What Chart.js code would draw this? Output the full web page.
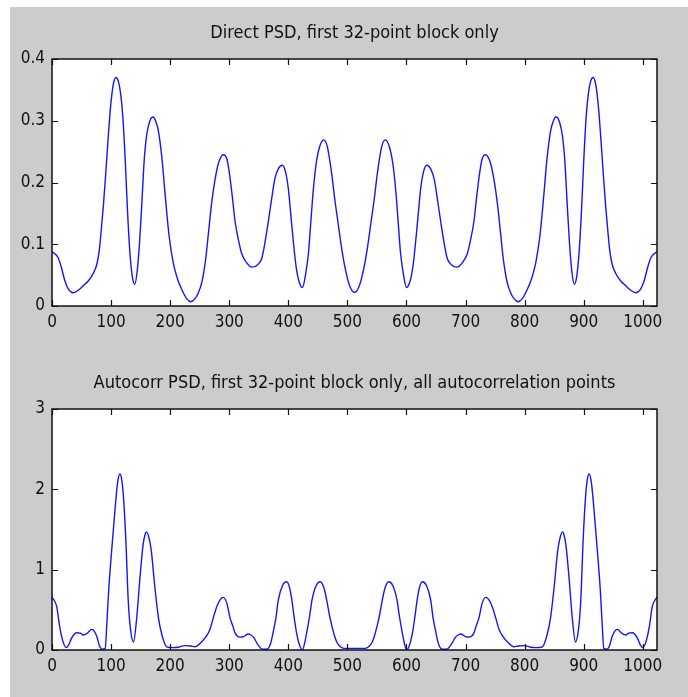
<!DOCTYPE html>
<html>
<head>
<meta charset="utf-8">
<script src="https://cdn.jsdelivr.net/npm/chart.js@4.4.1/dist/chart.umd.min.js"></script>
<style>
  body { margin: 0; background: #fff; }
  #wrap { position: relative; width: 688px; height: 697px; overflow: hidden; }
  #figbg { position: absolute; left: 10px; top: 7px; width: 678px; height: 690px; background: #cccccc; }
  canvas { position: absolute; left: 0; }
  #c1 { top: 0; }
  #c2 { top: 345px; }
</style>
</head>
<body>
<div id="wrap">
  <div id="figbg"></div>
  <canvas id="c1" width="688" height="345"></canvas>
  <canvas id="c2" width="688" height="352"></canvas>
</div>
<script>
// --- Data ---
const directX = [
  0, 10, 16, 22, 28, 36, 45, 53, 61, 70, 76, 80, 84, 87, 91, 95, 98, 101, 104, 108,
  112, 116, 120, 124, 128, 132, 136, 140, 144, 148, 152, 156, 160, 165, 171, 176, 180, 186, 192, 198,
  205, 212, 220, 228, 235, 242, 248, 254, 260, 265, 270, 276, 282, 290, 296, 301, 306, 310, 316, 321,
  328, 339, 348, 355, 360, 366, 372, 377, 383, 390, 395, 400, 404, 408, 413, 418, 424, 429, 434, 438,
  442, 447, 453, 460, 466, 473, 479, 484, 490, 496, 503, 512,
  521, 528, 534, 540, 545, 551, 558, 564, 571, 577, 582, 586, 590, 595, 600, 606, 611, 616, 620, 624,
  629, 634, 641, 647, 652, 658, 664, 669, 676, 685, 696, 703, 708, 714, 718, 723, 728, 734, 742, 748,
  754, 759, 764, 770, 776, 782, 789, 796, 804, 812, 819, 826, 832, 838, 844, 848, 853, 859, 864, 868,
  872, 876, 880, 884, 888, 892, 896, 900, 904, 908, 912, 916, 920, 923, 926, 929, 933, 937, 940, 944,
  948, 954, 963, 971, 979, 988, 996, 1002, 1008, 1014, 1024
];
const directPsd = [
  0.088, 0.079, 0.062, 0.040, 0.027, 0.0215, 0.026, 0.033, 0.040, 0.053, 0.068, 0.090, 0.130, 0.163, 0.215, 0.271, 0.310, 0.340, 0.360, 0.370,
  0.365, 0.345, 0.305, 0.235, 0.150, 0.085, 0.047, 0.035, 0.055, 0.100, 0.165, 0.235, 0.275, 0.298, 0.306, 0.298, 0.284, 0.240, 0.175, 0.115,
  0.071, 0.045, 0.026, 0.012, 0.007, 0.012, 0.022, 0.040, 0.075, 0.120, 0.165, 0.205, 0.232, 0.245, 0.238, 0.210, 0.170, 0.136, 0.105, 0.085,
  0.072, 0.063, 0.067, 0.077, 0.100, 0.136, 0.175, 0.205, 0.222, 0.228, 0.218, 0.190, 0.150, 0.109, 0.065, 0.040, 0.030, 0.050, 0.085, 0.135,
  0.185, 0.230, 0.258, 0.269, 0.258, 0.217, 0.170, 0.136, 0.095, 0.062, 0.035, 0.022,
  0.035, 0.062, 0.095, 0.136, 0.170, 0.217, 0.258, 0.269, 0.258, 0.230, 0.185, 0.135, 0.085, 0.050, 0.030, 0.040, 0.065, 0.109, 0.150, 0.190,
  0.218, 0.228, 0.222, 0.205, 0.175, 0.136, 0.100, 0.077, 0.067, 0.063, 0.072, 0.085, 0.105, 0.136, 0.170, 0.210, 0.238, 0.245, 0.232, 0.205,
  0.165, 0.120, 0.075, 0.040, 0.022, 0.012, 0.007, 0.012, 0.026, 0.045, 0.071, 0.115, 0.175, 0.240, 0.284, 0.298, 0.306, 0.298, 0.275, 0.235,
  0.165, 0.100, 0.055, 0.035, 0.047, 0.085, 0.150, 0.235, 0.305, 0.345, 0.365, 0.370, 0.360, 0.340, 0.310, 0.271, 0.215, 0.163, 0.130, 0.090,
  0.068, 0.053, 0.040, 0.033, 0.026, 0.0215, 0.027, 0.040, 0.062, 0.079, 0.088
];

const autoX = [
  0, 8, 13, 18, 24, 28, 33, 38, 42, 48, 53, 60, 67, 72, 76, 80, 85, 90, 93, 96,
  101, 107, 111, 115, 118, 121, 125, 129, 133, 138, 143, 149, 154, 158, 160, 164, 168, 174, 180, 186,
  194, 205, 214, 225, 235, 242, 253, 260, 267, 273, 279, 285, 290, 296, 301, 306, 310, 318, 325, 332,
  336, 341, 349, 356, 364, 370, 374, 379, 383, 390, 397, 402, 406, 410, 414, 419, 424, 428, 431, 436,
  440, 447, 454, 460, 465, 470, 474, 478, 482, 488, 494, 500, 512,
  524, 530, 536, 542, 546, 550, 554, 559, 564, 570, 577, 584, 588, 593, 596, 600, 605, 610, 614, 618,
  622, 627, 634, 641, 645, 650, 654, 660, 668, 675, 683, 688, 692, 699, 706, 714, 718, 723, 728, 734,
  739, 745, 751, 757, 764, 771, 782, 789, 799, 810, 819, 830, 838, 844, 850, 856, 860, 864, 866, 870,
  875, 881, 886, 891, 895, 899, 903, 906, 909, 913, 917, 923, 928, 931, 934, 939, 944, 948, 952, 957,
  964, 971, 976, 982, 986, 991, 996, 1000, 1006, 1011, 1016, 1024
];
const autoPsd = [
  0.66, 0.54, 0.29, 0.12, 0.03, 0.06, 0.145, 0.20, 0.215, 0.21, 0.186, 0.21, 0.257, 0.23, 0.166, 0.06, 0.01, 0.02, 0.35, 0.75,
  1.24, 1.78, 2.08, 2.19, 2.12, 1.90, 1.37, 0.62, 0.25, 0.10, 0.37, 0.91, 1.30, 1.45, 1.47, 1.40, 1.24, 0.79, 0.41, 0.19,
  0.04, 0.03, 0.035, 0.055, 0.05, 0.04, 0.10, 0.16, 0.25, 0.40, 0.54, 0.63, 0.655, 0.58, 0.41, 0.30, 0.21, 0.16, 0.17, 0.20,
  0.19, 0.16, 0.06, 0.01, 0.01, 0.08, 0.21, 0.40, 0.62, 0.80, 0.85, 0.78, 0.62, 0.40, 0.21, 0.06, 0.00, 0.10, 0.21, 0.42,
  0.62, 0.80, 0.85, 0.78, 0.62, 0.42, 0.29, 0.18, 0.10, 0.04, 0.02, 0.02, 0.02,
  0.02, 0.02, 0.04, 0.10, 0.18, 0.29, 0.42, 0.62, 0.78, 0.85, 0.80, 0.62, 0.42, 0.21, 0.10, 0.00, 0.06, 0.21, 0.40, 0.62,
  0.78, 0.85, 0.80, 0.62, 0.40, 0.21, 0.08, 0.01, 0.01, 0.06, 0.16, 0.19, 0.20, 0.17, 0.16, 0.21, 0.30, 0.41, 0.58, 0.655,
  0.63, 0.54, 0.40, 0.25, 0.16, 0.10, 0.04, 0.05, 0.055, 0.035, 0.03, 0.04, 0.19, 0.41, 0.79, 1.24, 1.40, 1.47, 1.45, 1.30,
  0.91, 0.37, 0.10, 0.25, 0.62, 1.37, 1.90, 2.12, 2.19, 2.08, 1.78, 1.24, 0.75, 0.35, 0.02, 0.01, 0.06, 0.166, 0.23, 0.257,
  0.21, 0.186, 0.21, 0.215, 0.20, 0.145, 0.06, 0.03, 0.12, 0.29, 0.54, 0.66
];

const xTicks = [0, 100, 200, 300, 400, 500, 600, 700, 800, 900, 1000];
const directTicks = [0, 0.1, 0.2, 0.3, 0.4];
const autoTicks = [0, 1, 2, 3];

const titles = [
  'Direct PSD, first 32-point block only',
  'Autocorr PSD, first 32-point block only, all autocorrelation points'
];

// --- Defaults ---
Chart.defaults.font.family = "'Liberation Sans Narrow', 'DejaVu Sans Condensed', 'Liberation Sans', Arial, sans-serif";
Chart.defaults.font.size = 17;
Chart.defaults.color = '#111';

// --- MATLAB style box with inward ticks ---
const matlabBox = {
  id: 'matlabBox',
  beforeDraw(chart) {
    const { ctx, chartArea: a } = chart;
    ctx.save();
    ctx.fillStyle = '#fff';
    ctx.fillRect(a.left, a.top, a.right - a.left, a.bottom - a.top);
    ctx.restore();
  },
  afterDraw(chart) {
    const { ctx, chartArea: a, scales } = chart;
    const len = 6;
    ctx.save();
    ctx.strokeStyle = '#111';
    ctx.lineWidth = 1.2;
    ctx.beginPath();
    scales.x.ticks.forEach(t => {
      const px = Math.round(scales.x.getPixelForValue(t.value)) + 0.5;
      ctx.moveTo(px, a.bottom); ctx.lineTo(px, a.bottom - len);
      ctx.moveTo(px, a.top); ctx.lineTo(px, a.top + len);
    });
    scales.y.ticks.forEach(t => {
      const py = Math.round(scales.y.getPixelForValue(t.value)) + 0.5;
      ctx.moveTo(a.left, py); ctx.lineTo(a.left + len, py);
      ctx.moveTo(a.right, py); ctx.lineTo(a.right - len, py);
    });
    ctx.stroke();
    ctx.lineWidth = 1.5;
    ctx.strokeRect(a.left, a.top, a.right - a.left, a.bottom - a.top);
    ctx.restore();
  }
};

// --- Chart builder ---
function makeChart(id, title, xs, ys, yMax, yTicks, opts) {
  const points = xs.map((x, i) => ({ x: x, y: ys[i] }));
  return new Chart(document.getElementById(id), {
    type: 'line',
    data: {
      datasets: [{
        data: points,
        borderColor: 'rgb(20,20,255)',
        borderWidth: 1.4,
        pointRadius: 0,
        cubicInterpolationMode: 'monotone',
        fill: false
      }]
    },
    options: {
      responsive: false,
      animation: false,
      layout: { padding: { top: opts.padTop, left: 0, right: 31, bottom: 0 } },
      plugins: {
        legend: { display: false },
        tooltip: { enabled: false },
        title: {
          display: true,
          fullSize: false,
          text: title,
          color: '#111',
          font: { size: 18, weight: 'normal', lineHeight: 1.2 },
          padding: { top: 0, bottom: opts.titleGap }
        }
      },
      scales: {
        x: {
          type: 'linear',
          min: 0,
          max: 1024,
          grid: { display: false, drawTicks: false },
          border: { display: false },
          ticks: {
            autoSkip: false, maxRotation: 0, padding: 6, includeBounds: false,
            callback: v => String(v)
          },
          afterBuildTicks: s => { s.ticks = xTicks.map(v => ({ value: v })); },
          afterFit: s => { s.height = opts.xHeight; }
        },
        y: {
          min: 0,
          max: yMax,
          grid: { display: false, drawTicks: false },
          border: { display: false },
          ticks: { padding: 7, callback: v => String(v) },
          afterBuildTicks: s => { s.ticks = yTicks.map(v => ({ value: v })); },
          afterFit: s => { s.width = 52; }
        }
      }
    },
    plugins: [matlabBox]
  });
}

makeChart('c1', titles[0], directX, directPsd, 0.4, directTicks, { padTop: 23, titleGap: 14.4, xHeight: 39 });
makeChart('c2', titles[1], autoX, autoPsd, 3, autoTicks, { padTop: 28, titleGap: 14.4, xHeight: 47 });
</script>
</body>
</html>
